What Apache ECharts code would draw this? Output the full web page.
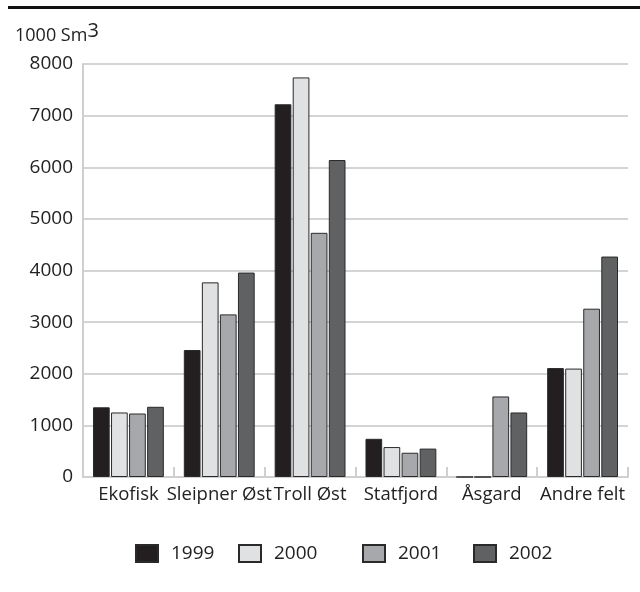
<!DOCTYPE html>
<html>
<head>
<meta charset="utf-8">
<script src="https://cdn.jsdelivr.net/npm/echarts@6/dist/echarts.min.js"></script>
<style>
  html, body { margin: 0; padding: 0; background: #fff; }
  #chart { width: 640px; height: 592px; }
</style>
</head>
<body>
<div id="chart"></div>
<script>
  // felt
  var categories = ['Ekofisk', 'Sleipner Øst', 'Troll Øst', 'Statfjord', 'Åsgard', 'Andre felt']
  var years = ['1999', '2000', '2001', '2002']
  // 1000 Sm3 per år
  var v1999 = [1350, 2460, 7220, 740, 0, 2110]
  var v2000 = [1250, 3770, 7740, 580, 0, 2100]
  var v2001 = [1230, 3150, 4730, 470, 1560, 3260]
  var v2002 = [1360, 3960, 6140, 550, 1250, 4270]
  var yTicks = [0, 1000, 2000, 3000, 4000, 5000, 6000, 7000, 8000]

  var values = [v1999, v2000, v2001, v2002]
  var colors = ['#231f20', '#e0e1e3', '#a7a8ab', '#606163']
  var legendLeft = [130, 233, 357, 468]
  var font = '"Open Sans", "Noto Sans", sans-serif'

  var chart = echarts.init(document.getElementById('chart'))

  chart.setOption({
    animation: false,
    textStyle: { fontFamily: font },
    title: {
      text: '1000 Sm{sup|3}',
      left: 10,
      top: 16,
      textStyle: {
        fontFamily: font,
        fontSize: 18,
        fontWeight: 'normal',
        color: '#222',
        rich: {
          sup: { fontSize: 20, verticalAlign: 'bottom', padding: [0, 0, 10, 0], color: '#222', fontFamily: font }
        }
      }
    },
    graphic: [{
      type: 'rect',
      shape: { x: 8, y: 6, width: 632, height: 3 },
      style: { fill: '#111' }
    }],
    legend: years.map(function (y, i) {
      return {
        data: [y],
        left: legendLeft[i],
        top: 539,
        itemWidth: 22,
        itemHeight: 17,
        icon: 'rect',
        textStyle: { fontSize: 19, color: '#222', padding: [0, 0, 0, 8], fontFamily: font }
      }
    }),
    grid: { left: 83, right: 12, top: 64, bottom: 115 },
    xAxis: {
      type: 'category',
      data: categories,
      axisLine: { show: true, lineStyle: { color: '#cfcfcf', width: 2 } },
      axisTick: { show: true, inside: true, length: 10, lineStyle: { color: '#cfcfcf', width: 2 } },
      axisLabel: { interval: 0, fontSize: 18.5, color: '#222', margin: 8 }
    },
    yAxis: {
      type: 'value',
      min: yTicks[0],
      max: yTicks[yTicks.length - 1],
      interval: 1000,
      axisLine: { show: true, lineStyle: { color: '#cfcfcf', width: 2 } },
      axisTick: { show: false },
      axisLabel: { fontSize: 19, color: '#222', margin: 10, formatter: function (v) { return String(v) } },
      splitLine: { lineStyle: { color: '#d4d4d4', width: 2 } }
    },
    series: years.map(function (y, i) {
      return {
        name: y,
        type: 'bar',
        data: values[i],
        barGap: '8%',
        barCategoryGap: '22%',
        itemStyle: {
          color: colors[i],
          borderColor: '#2a2a2a',
          borderWidth: 1
        }
      }
    })
  })
</script>
</body>
</html>
